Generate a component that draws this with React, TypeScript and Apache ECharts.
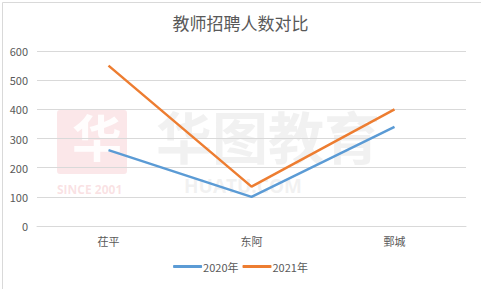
import React, { useEffect, useRef } from "react";
import * as echarts from "echarts";

const categories = ["茌平", "东阿", "鄄城"];
const series2020 = [260, 100, 340];
const series2021 = [550, 135, 400];
const seriesNames = ["2020年", "2021年"];
const titleText = "教师招聘人数对比";

export default function App() {
  const ref = useRef<HTMLDivElement>(null);
  useEffect(() => {
    const chart = echarts.init(ref.current!, null, { renderer: "svg" });
    const font = "'Microsoft YaHei', 'Noto Sans CJK SC', sans-serif";
    chart.setOption({
      animation: false,
      backgroundColor: "#ffffff",
      title: {
        text: titleText,
        left: "center",
        top: 9,
        textStyle: { fontSize: 17, fontWeight: "normal", color: "#595959", fontFamily: font },
      },
      graphic: [
        { type: "rect", left: 0, top: 0, shape: { width: 480, height: 288 }, style: { fill: "none", stroke: "#d9d9d9", lineWidth: 1 }, z: -10 },
        { type: "rect", left: 57, top: 110, shape: { width: 70, height: 64, r: 3 }, style: { fill: "rgba(240,170,175,0.28)" }, z: -5 },
        { type: "text", left: 72, top: 110, style: { text: "华", fontSize: 50, fontWeight: "bold", fill: "rgba(255,255,255,0.9)", fontFamily: font }, z: -4 },
        { type: "text", left: 57, top: 183, style: { text: "SINCE 2001", fontSize: 12, fontWeight: "bold", fill: "rgba(240,170,175,0.35)", fontFamily: "Open Sans" }, z: -5 },
        { type: "text", left: 156, top: 106, style: { text: "华图教育", fontSize: 56, fontWeight: "bold", fill: "rgba(215,215,215,0.35)", fontFamily: font }, z: -5 },
        { type: "text", left: 184, top: 176, style: { text: "HUATU.COM", fontSize: 19, fontWeight: "bold", fill: "rgba(215,215,215,0.35)", fontFamily: "Open Sans" }, z: -5 },
      ],
      legend: {
        bottom: 12,
        left: "center",
        icon: "roundRect",
        itemWidth: 29,
        itemHeight: 3,
        itemGap: 4,
        textStyle: { fontSize: 11, color: "#595959", fontFamily: font, padding: [0, 0, 0, -4] },
        data: seriesNames,
      },
      grid: { left: 37, right: 15, top: 51, bottom: 63 },
      xAxis: {
        type: "category",
        data: categories,
        axisLine: { lineStyle: { color: "#d9d9d9" } },
        axisTick: { show: false },
        axisLabel: { fontSize: 11, color: "#595959", fontFamily: font, margin: 9 },
      },
      yAxis: {
        type: "value",
        min: 0,
        max: 600,
        interval: 100,
        axisLine: { show: false },
        axisTick: { show: false },
        splitLine: { lineStyle: { color: "#d9d9d9" } },
        axisLabel: { fontSize: 11, color: "#595959", fontFamily: font, margin: 9 },
      },
      series: [
        {
          name: seriesNames[0],
          type: "line",
          data: series2020,
          symbol: "none",
          lineStyle: { width: 2.5, color: "#5B9BD5" },
          itemStyle: { color: "#5B9BD5" },
        },
        {
          name: seriesNames[1],
          type: "line",
          data: series2021,
          symbol: "none",
          lineStyle: { width: 2.5, color: "#ED7D31" },
          itemStyle: { color: "#ED7D31" },
        },
      ],
    });
    return () => chart.dispose();
  }, []);
  return <div ref={ref} style={{ position: "fixed", left: 0, top: 0, width: 481, height: 289 }} />;
}
